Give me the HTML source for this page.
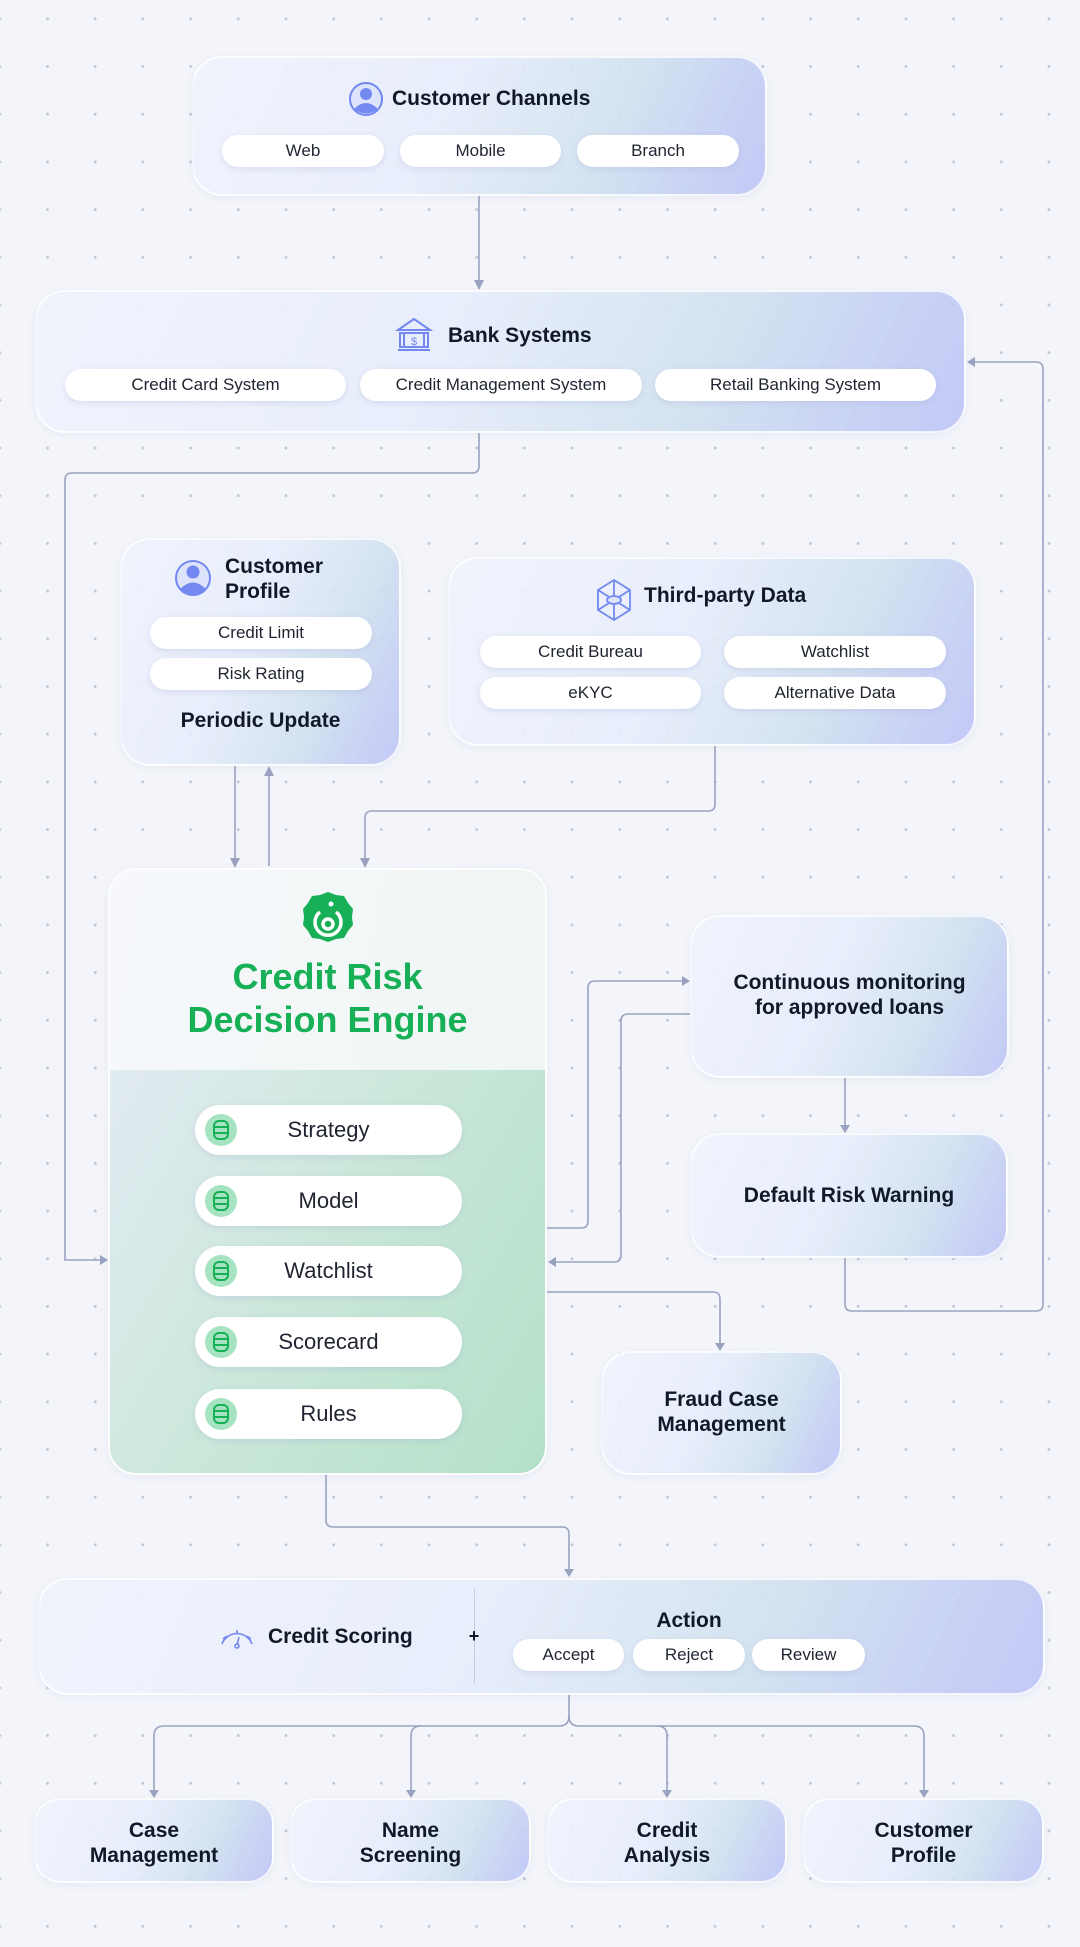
<!DOCTYPE html>
<html><head><meta charset="utf-8"><style>
*{margin:0;padding:0;box-sizing:border-box}
body{width:1080px;height:1947px;position:relative;overflow:hidden;background:#f3f5fa;font-family:"Liberation Sans",sans-serif;color:#111827}
.dots{position:absolute;left:0;top:0;width:1080px;height:1947px;background-image:radial-gradient(circle,#c3c8d6 1.3px,transparent 1.6px);background-size:47.7px 47.7px;background-position:-24px -5px}
.box{position:absolute;border-radius:30px;border:2px solid rgba(255,255,255,.8);background:linear-gradient(115deg,rgba(240,243,252,.88) 0%,rgba(229,236,250,.88) 45%,rgba(208,225,238,.88) 70%,rgba(190,196,246,.92) 100%);box-shadow:0 2px 8px rgba(150,160,200,.12)}
.pill{position:absolute;background:#fff;border-radius:16px;text-align:center;font-size:17px;color:#1f2430;box-shadow:0 2px 6px rgba(150,160,210,.25)}
.t{position:absolute;font-weight:bold;font-size:21px;color:#111827;text-align:center;line-height:25px}
svg{position:absolute;left:0;top:0}
</style></head><body>
<div class="dots"></div>

<svg width="1080" height="1947" style="z-index:0">
<g fill="none" stroke="#99a3c0" stroke-width="1.6">
<path d="M479 196 V282"/>
<path d="M479 433 V466 Q479 473 472 473 H72 Q65 473 65 480 V1260 H100"/>
<path d="M845 1258 V1304 Q845 1311 852 1311 H1036 Q1043 1311 1043 1304 V369 Q1043 362 1036 362 H975"/>
<path d="M235 766 V860"/>
<path d="M269 866 V775"/>
<path d="M715 746 V804 Q715 811 708 811 H372 Q365 811 365 818 V860"/>
<path d="M547 1228 H581 Q588 1228 588 1221 V988 Q588 981 595 981 H682"/>
<path d="M690 1014 H628 Q621 1014 621 1021 V1255 Q621 1262 614 1262 H556"/>
<path d="M547 1292 H713 Q720 1292 720 1299 V1343"/>
<path d="M845 1078 V1125"/>
<path d="M326 1475 V1520 Q326 1527 333 1527 H562 Q569 1527 569 1534 V1569"/>
<path d="M569 1695 V1716 Q569 1726 559 1726 H164 Q154 1726 154 1736 V1790"/>
<path d="M411 1790 V1736 Q411 1726 421 1726"/>
<path d="M569 1716 Q569 1726 579 1726 H914 Q924 1726 924 1736 V1790"/>
<path d="M667 1790 V1736 Q667 1726 657 1726"/>
</g>
<g fill="#99a3c0">
<path d="M474 280 L484 280 L479 290 Z"/>
<path d="M100 1255 L108 1260 L100 1265 Z"/>
<path d="M975 357 L967 362 L975 367 Z"/>
<path d="M230 858 L240 858 L235 868 Z"/>
<path d="M264 776 L274 776 L269 766 Z"/>
<path d="M360 858 L370 858 L365 868 Z"/>
<path d="M682 976 L690 981 L682 986 Z"/>
<path d="M556 1257 L548 1262 L556 1267 Z"/>
<path d="M715 1343 L725 1343 L720 1351 Z"/>
<path d="M840 1125 L850 1125 L845 1133 Z"/>
<path d="M564 1569 L574 1569 L569 1577 Z"/>
<path d="M149 1790 L159 1790 L154 1798 Z"/>
<path d="M406 1790 L416 1790 L411 1798 Z"/>
<path d="M662 1790 L672 1790 L667 1798 Z"/>
<path d="M919 1790 L929 1790 L924 1798 Z"/>
</g>
</svg>

<!-- Customer Channels -->
<div class="box" style="left:192px;top:56px;width:575px;height:140px"></div>
<svg width="1080" height="300" style="z-index:1"><circle cx="366" cy="99" r="16" fill="#dde3fb" stroke="#7388f0" stroke-width="2"/><circle cx="366" cy="94" r="6" fill="#7388f0"/><path d="M354 109 Q366 97 378 109 Q366 118 354 109Z" fill="#7388f0"/></svg>
<div class="t" style="left:392px;top:86px;text-align:left">Customer Channels</div>
<div class="pill" style="left:222px;top:135px;width:162px;height:32px;line-height:32px">Web</div>
<div class="pill" style="left:400px;top:135px;width:161px;height:32px;line-height:32px">Mobile</div>
<div class="pill" style="left:577px;top:135px;width:162px;height:32px;line-height:32px">Branch</div>

<!-- Bank Systems -->
<div class="box" style="left:35px;top:290px;width:931px;height:143px"></div>
<svg width="1080" height="450" style="z-index:1"><g fill="none" stroke="#7388f0" stroke-width="2"><path d="M398 330 L414 319 L430 330 Z"/><rect x="400" y="333" width="28" height="14"/><path d="M398 350 H430"/><path d="M404 333 V347 M424 333 V347"/></g><text x="414" y="345" font-size="11" fill="#7388f0" text-anchor="middle" font-family="Liberation Sans">$</text></svg>
<div class="t" style="left:448px;top:323px;text-align:left">Bank Systems</div>
<div class="pill" style="left:65px;top:369px;width:281px;height:32px;line-height:32px">Credit Card System</div>
<div class="pill" style="left:360px;top:369px;width:282px;height:32px;line-height:32px">Credit Management System</div>
<div class="pill" style="left:655px;top:369px;width:281px;height:32px;line-height:32px">Retail Banking System</div>

<!-- Customer Profile -->
<div class="box" style="left:120px;top:538px;width:281px;height:228px"></div>
<svg width="1080" height="800" style="z-index:1"><circle cx="193" cy="578" r="17" fill="#dde3fb" stroke="#7388f0" stroke-width="2"/><circle cx="193" cy="572" r="6.5" fill="#7388f0"/><path d="M180 589 Q193 576 206 589 Q193 599 180 589Z" fill="#7388f0"/></svg>
<div class="t" style="left:225px;top:554px;text-align:left">Customer<br>Profile</div>
<div class="pill" style="left:150px;top:617px;width:222px;height:32px;line-height:32px">Credit Limit</div>
<div class="pill" style="left:150px;top:658px;width:222px;height:32px;line-height:32px">Risk Rating</div>
<div class="t" style="left:120px;top:708px;width:281px">Periodic Update</div>

<!-- Third-party -->
<div class="box" style="left:448px;top:557px;width:528px;height:189px"></div>
<svg width="1080" height="800" style="z-index:1"><g fill="none" stroke="#7388f0" stroke-width="1.8"><path d="M614 580 L630 590 L630 610 L614 620 L598 610 L598 590 Z"/><path d="M614 580 V620 M598 590 L630 610 M630 590 L598 610"/><ellipse cx="614" cy="600" rx="7" ry="4" fill="#dde3fb"/></g></svg>
<div class="t" style="left:644px;top:583px;text-align:left">Third-party Data</div>
<div class="pill" style="left:480px;top:636px;width:221px;height:32px;line-height:32px">Credit Bureau</div>
<div class="pill" style="left:724px;top:636px;width:222px;height:32px;line-height:32px">Watchlist</div>
<div class="pill" style="left:480px;top:677px;width:221px;height:32px;line-height:32px">eKYC</div>
<div class="pill" style="left:724px;top:677px;width:222px;height:32px;line-height:32px">Alternative Data</div>

<!-- Engine -->
<div style="position:absolute;left:108px;top:868px;width:439px;height:607px;border-radius:28px;overflow:hidden;border:2px solid rgba(255,255,255,.8);box-shadow:0 2px 8px rgba(150,160,200,.12)">
 <div style="height:200px;background:linear-gradient(100deg,#f6f8fc,#eff6f3)"></div>
 <div style="height:407px;background:linear-gradient(120deg,#e2ebf3 0%,#cbe7da 45%,#b3e0c8 100%)"></div>
</div>
<svg width="1080" height="1500" style="z-index:1"><path d="M328 892 l8 3 8 1 4 7 5 6 -1 8 1 8 -5 6 -4 7 -8 1 -8 3 -8 -3 -8 -1 -4 -7 -5 -6 1 -8 -1 -8 5 -6 4 -7 8 -1 Z" fill="#17b057"/><g fill="none" stroke="#fff" stroke-width="3.5"><path d="M320 912 A13 13 0 1 0 336 912"/><circle cx="328" cy="924" r="5"/></g><circle cx="331" cy="904" r="2.5" fill="#fff"/></svg>
<div style="position:absolute;left:108px;top:955px;width:439px;text-align:center;font-weight:bold;font-size:36px;line-height:43px;color:#17b057">Credit Risk<br>Decision Engine</div>
<div class="pill" style="left:195px;top:1105px;width:267px;height:50px;line-height:50px;border-radius:25px;font-size:22px">Strategy</div>
<div class="pill" style="left:195px;top:1176px;width:267px;height:50px;line-height:50px;border-radius:25px;font-size:22px">Model</div>
<div class="pill" style="left:195px;top:1246px;width:267px;height:50px;line-height:50px;border-radius:25px;font-size:22px">Watchlist</div>
<div class="pill" style="left:195px;top:1317px;width:267px;height:50px;line-height:50px;border-radius:25px;font-size:22px">Scorecard</div>
<div class="pill" style="left:195px;top:1389px;width:267px;height:50px;line-height:50px;border-radius:25px;font-size:22px">Rules</div>
<svg width="1080" height="1500" style="z-index:2">
<g id="db"><circle cx="221" cy="1130" r="16" fill="#a6e3c1"/><g fill="none" stroke="#17b057" stroke-width="2"><rect x="214" y="1121" width="14" height="18" rx="5"/><path d="M214 1127 H228 M214 1133 H228"/></g></g>
<use href="#db" y="71"/><use href="#db" y="141"/><use href="#db" y="212"/><use href="#db" y="284"/>
</svg>

<!-- Monitoring -->
<div class="box" style="left:690px;top:915px;width:319px;height:163px"></div>
<div class="t" style="left:690px;top:970px;width:319px">Continuous monitoring<br>for approved loans</div>
<div class="box" style="left:690px;top:1133px;width:318px;height:125px"></div>
<div class="t" style="left:690px;top:1183px;width:318px">Default Risk Warning</div>
<div class="box" style="left:601px;top:1351px;width:241px;height:124px"></div>
<div class="t" style="left:601px;top:1387px;width:241px">Fraud Case<br>Management</div>

<!-- Action bar -->
<div class="box" style="left:38px;top:1578px;width:1007px;height:117px"></div>
<div style="position:absolute;left:474px;top:1588px;width:1px;height:96px;background:#c8cde0"></div>
<svg width="1080" height="1947" style="z-index:1"><g fill="none" stroke="#7388f0" stroke-width="1.6"><path d="M222 1644 A16 16 0 0 1 252 1644"/><path d="M227 1636 l-4 3 M237 1630 v4 M247 1636 l4 3"/><path d="M237 1645 l2 -8"/><circle cx="237" cy="1646" r="2"/></g></svg>
<div class="t" style="left:268px;top:1624px;text-align:left">Credit Scoring</div>
<div class="t" style="left:466px;top:1624px;width:16px;font-size:18px">+</div>
<div class="t" style="left:610px;top:1608px;width:158px">Action</div>
<div class="pill" style="left:513px;top:1639px;width:111px;height:32px;line-height:32px">Accept</div>
<div class="pill" style="left:633px;top:1639px;width:112px;height:32px;line-height:32px">Reject</div>
<div class="pill" style="left:752px;top:1639px;width:113px;height:32px;line-height:32px">Review</div>

<!-- bottom boxes -->
<div class="box" style="left:34px;top:1798px;width:240px;height:85px;border-radius:26px"></div>
<div class="t" style="left:34px;top:1818px;width:240px">Case<br>Management</div>
<div class="box" style="left:290px;top:1798px;width:241px;height:85px;border-radius:26px"></div>
<div class="t" style="left:290px;top:1818px;width:241px">Name<br>Screening</div>
<div class="box" style="left:547px;top:1798px;width:240px;height:85px;border-radius:26px"></div>
<div class="t" style="left:547px;top:1818px;width:240px">Credit<br>Analysis</div>
<div class="box" style="left:803px;top:1798px;width:241px;height:85px;border-radius:26px"></div>
<div class="t" style="left:803px;top:1818px;width:241px">Customer<br>Profile</div>
</body></html>
